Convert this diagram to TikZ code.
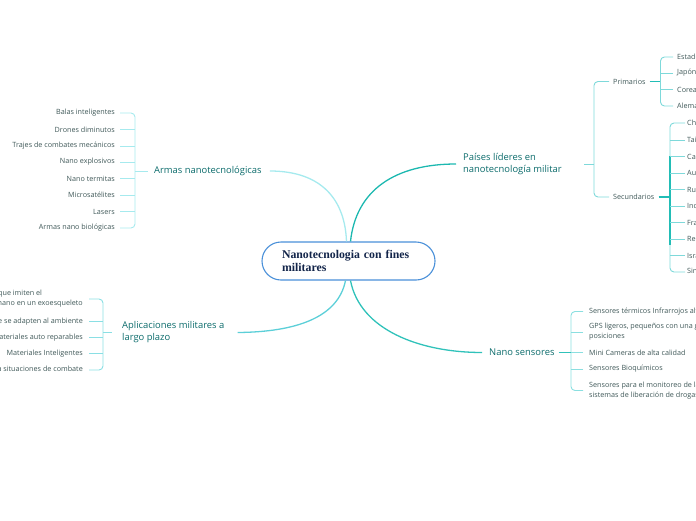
\documentclass[tikz,border=0pt]{standalone}
\usepackage{fontspec}
\setmainfont{Open Sans}
\newfontfamily\serifbold{Liberation Serif}
\definecolor{topicc}{HTML}{0B6B6B}
\definecolor{leafc}{HTML}{3F5858}
\definecolor{armc}{HTML}{A6EAEE}
\definecolor{paisc}{HTML}{1CB8B0}
\definecolor{paisl}{HTML}{7ED9DA}
\definecolor{paisd}{HTML}{22BDB6}
\definecolor{apc}{HTML}{5CCFD8}
\definecolor{apl}{HTML}{8ADFE4}
\definecolor{nanoc}{HTML}{30C2BA}
\definecolor{nanol}{HTML}{8ADFE0}
\definecolor{centb}{HTML}{4A90D9}
\definecolor{centt}{HTML}{13254A}
\tikzset{
  leafL/.style={font=\fontsize{7.2}{10}\selectfont, text=leafc, anchor=east, inner sep=0pt, align=left},
  leafR/.style={font=\fontsize{7.2}{10}\selectfont, text=leafc, anchor=west, inner sep=0pt, align=left},
  topic/.style={font=\fontsize{9.4}{12}\selectfont, text=topicc, anchor=west, inner sep=0pt, align=left},
  mid/.style={font=\fontsize{7.2}{10}\selectfont, text=leafc, anchor=west, inner sep=0pt},
  brk/.style={line width=0.9pt, rounded corners=4pt},
  curve/.style={line width=1.3pt},
}
\begin{document}
\begin{tikzpicture}[x=1pt,y=-1pt]
\useasboundingbox (0,0) rectangle (696,520);
\clip (0,0) rectangle (696,520);

% central node
\node[draw=centb, line width=1.1pt, fill=white, rounded corners=19pt, minimum width=173pt, minimum height=38pt,
      text width=133pt, inner xsep=20pt, align=left, font=\serifbold\bfseries\fontsize{11.8}{12.5}\selectfont, text=centt]
      (center) at (348.5,261) {Nanotecnologia con fines militares};

% ---------- Armas nanotecnológicas ----------
\node[topic] (armas) at (154,171) {Armas nanotecnológicas};
\node[leafL] (a1) at (115,113) {Balas inteligentes};
\node[leafL] (a2) at (115,129.5) {Drones diminutos};
\node[leafL] (a3) at (115,146) {Trajes de combates mecánicos};
\node[leafL] (a4) at (115,162) {Nano explosivos};
\node[leafL] (a5) at (115,178.5) {Nano termitas};
\node[leafL] (a6) at (115,195) {Microsatélites};
\node[leafL] (a7) at (115,211.5) {Lasers};
\node[leafL] (a8) at (115,228) {Armas nano biológicas};
\coordinate (aB) at (135,171);
\draw[brk, armc] ([xshift=5]a1.east) -- (a1.east -| aB) -- (a8.east -| aB) -- ([xshift=5]a8.east);
\foreach \n in {a2,a3,a4,a5,a6,a7} \draw[line width=0.9pt, armc] ([xshift=5]\n.east) -- (\n.east -| aB);
\draw[line width=0.9pt, armc] (aB) -- ([xshift=-6]armas.west);
\draw[curve, armc] ([xshift=-2]center.north) .. controls (345,200) and (322,171) .. ([xshift=8]armas.east);

% ---------- Países líderes ----------
\node[topic] (pais) at (463,164) {Países líderes en\\nanotecnología militar};
\node[mid] (prim) at (613,81.5) {Primarios};
\node[mid] (sec) at (613,197) {Secundarios};
\coordinate (pB) at (594,164);
\draw[brk, paisl] ([xshift=-4]prim.west) -- (prim.west -| pB) -- (sec.west -| pB) -- ([xshift=-4]sec.west);
\draw[line width=0.9pt, paisl] (584,164) -- (pB);
\draw[curve, paisc] ([xshift=2]center.north) .. controls (356,190) and (395,164) .. ([xshift=-7]pais.west);

\node[leafR] (p1) at (677,57) {Estados Unidos};
\node[leafR] (p2) at (677,73) {Japón};
\node[leafR] (p3) at (677,89.5) {Corea del Sur};
\node[leafR] (p4) at (677,106) {Alemania};
\coordinate (prB) at (660.5,81.5);
\draw[line width=0.9pt, paisd] ([xshift=4]prim.east) -- (prB);
\draw[brk, paisl] ([xshift=-4]p1.west) -- (p1.west -| prB) -- (p4.west -| prB) -- ([xshift=-4]p4.west);
\foreach \n in {p2,p3} \draw[line width=0.9pt, paisl] ([xshift=-4]\n.west) -- (\n.west -| prB);

\node[leafR] (s1) at (687,123) {China};
\node[leafR] (s2) at (687,140) {Taiwán};
\node[leafR] (s3) at (687,156.5) {Canadá};
\node[leafR] (s4) at (687,173) {Australia};
\node[leafR] (s5) at (687,189.5) {Rusia};
\node[leafR] (s6) at (687,206) {India};
\node[leafR] (s7) at (687,222.5) {Francia};
\node[leafR] (s8) at (687,239) {Reino Unido};
\node[leafR] (s9) at (687,255.5) {Israel};
\node[leafR] (s10) at (687,272) {Singapur};
\coordinate (seB) at (670,197);
\draw[line width=1.6pt, paisd] ([xshift=4]sec.east) -- (seB);
\draw[brk, paisl] ([xshift=-2]s1.west) -- (s1.west -| seB) -- (s10.west -| seB) -- ([xshift=-2]s10.west);
\draw[line width=1.3pt, paisd] (670,156) -- (670,245);
\foreach \n in {s2,s3,s4,s5,s6,s7,s8,s9} \draw[line width=0.9pt, paisl] ([xshift=-2]\n.west) -- (\n.west -| seB);

% ---------- Aplicaciones militares ----------
\node[topic] (apl) at (122,332.5) {Aplicaciones militares a\\largo plazo};
\node[leafL] (b1) at (83,299) {Materiales que imiten el\\cuerpo humano en un exoesqueleto};
\node[leafL] (b2) at (83,321.5) {Uniformes que se adapten al ambiente};
\node[leafL] (b3) at (83,337.5) {Materiales auto reparables};
\node[leafL] (b4) at (83,353.5) {Materiales Inteligentes};
\node[leafL] (b5) at (83,370) {Camuflaje adaptable a situaciones de combate};
\coordinate (bB) at (103,332.5);
\draw[brk, apl] ([xshift=6]b1.east) -- (b1.east -| bB) -- (b5.east -| bB) -- ([xshift=6]b5.east);
\foreach \n in {b2,b3,b4} \draw[line width=0.9pt, apl] ([xshift=6]\n.east) -- (\n.east -| bB);
\draw[line width=0.9pt, apl] (bB) -- ([xshift=-10]apl.west);
\draw[curve, apc] ([xshift=-3]center.south) .. controls (338,318) and (295,332) .. ([xshift=13]apl.east);

% ---------- Nano sensores ----------
\node[topic] (nano) at (489,352.5) {Nano sensores};
\node[leafR] (n1) at (589,311.5) {Sensores térmicos Infrarrojos altamente sensibles};
\node[leafR] (n2) at (589,332) {GPS ligeros, pequeños con una gran precisión de\\posiciones};
\node[leafR] (n3) at (589,352.5) {Mini Cameras de alta calidad};
\node[leafR] (n4) at (589,369) {Sensores Bioquímicos};
\node[leafR] (n5) at (589,390.5) {Sensores para el monitoreo de la salud y\\sistemas de liberación de drogas};
\coordinate (nB) at (571,352.5);
\draw[brk, nanol] ([xshift=-6]n1.west) -- (n1.west -| nB) -- (n5.west -| nB) -- ([xshift=-6]n5.west);
\foreach \n in {n2,n3,n4} \draw[line width=0.9pt, nanol] ([xshift=-6]\n.west) -- (\n.west -| nB);
\draw[line width=1.1pt, nanoc] ([xshift=4]nano.east) -- (nB);
\draw[curve, nanoc] ([xshift=2]center.south) .. controls (360,330) and (420,352.5) .. ([xshift=-7]nano.west);
\end{tikzpicture}
\end{document}
